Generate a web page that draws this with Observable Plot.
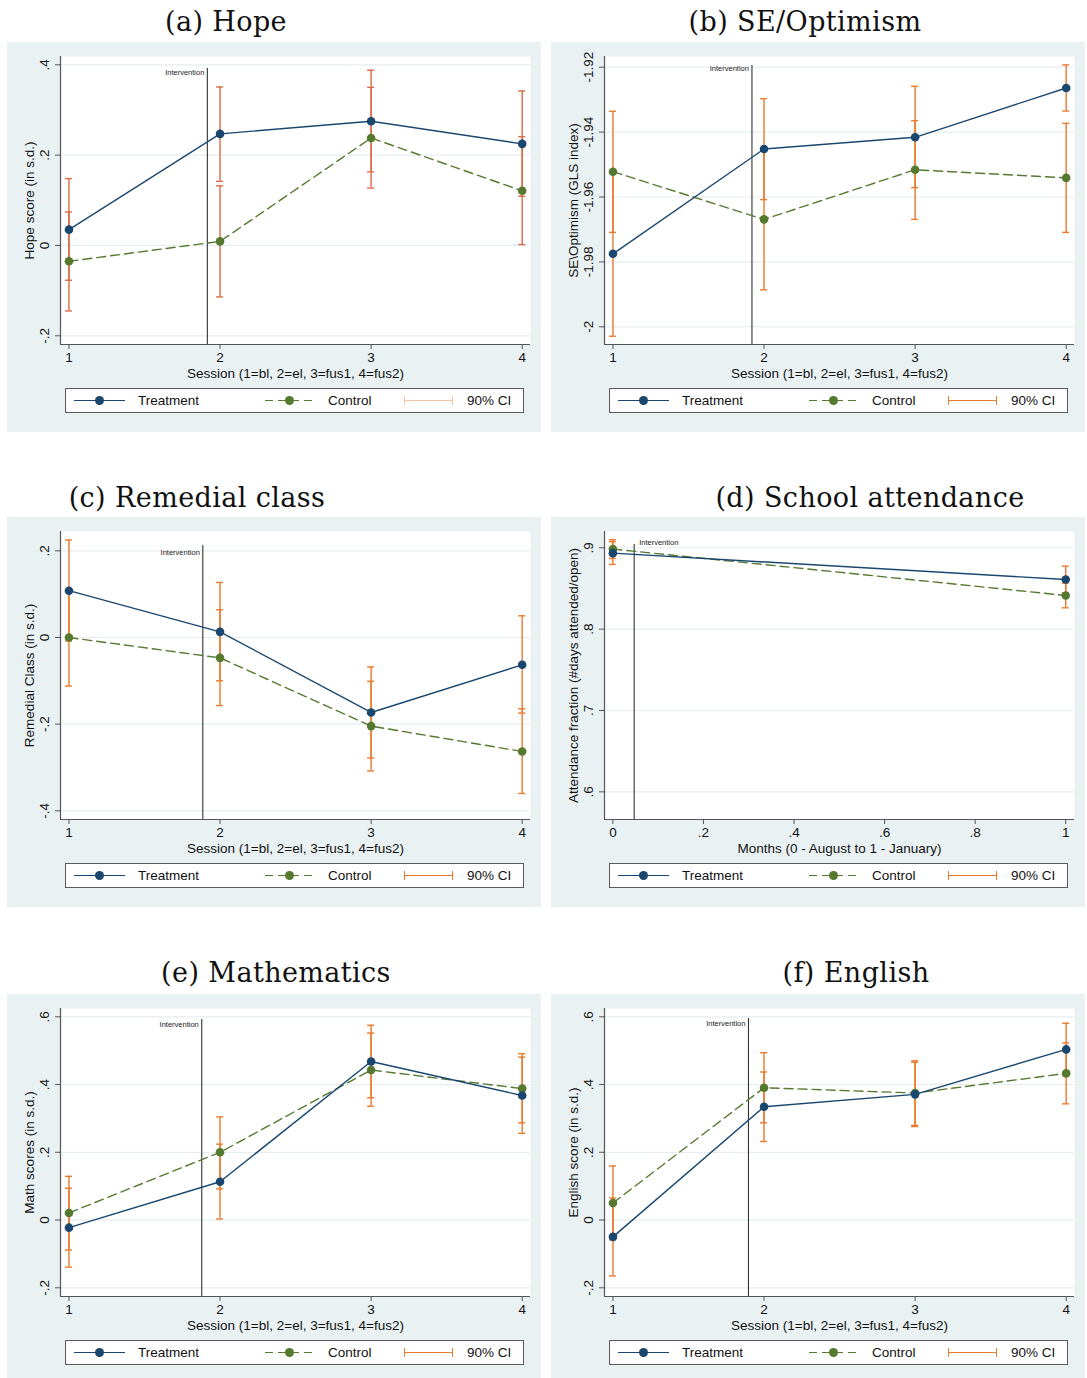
<!DOCTYPE html>
<html>
<head>
<meta charset="utf-8">
<script src="https://cdn.jsdelivr.net/npm/d3@7"></script>
<script src="https://cdn.jsdelivr.net/npm/@observablehq/plot@0.6"></script>
<style>
  body { margin: 0; background: #ffffff; }
  #page { position: relative; width: 1087px; height: 1378px; overflow: hidden;
          font-family: "Liberation Sans", Arial, Helvetica, sans-serif; }
  .title { position: absolute; width: 600px; text-align: center; line-height: 36px;
           font-family: "DejaVu Serif", "Liberation Serif", serif; font-size: 27px;
           letter-spacing: 0.4px; color: #111; }
  .panel { position: absolute; width: 534px; background: #eaf1f3; }
  .panel svg { display: block; }
  .legend { position: absolute; left: 58px; top: 346px; width: 457px; height: 23px;
            background: #fff; border: 1px solid #5a5a5a; font-size: 13.5px; color: #111; }
  .legend .txt { position: absolute; top: 4px; line-height: 15px; white-space: nowrap; }
  .legend .ln { position: absolute; top: 11px; height: 1.4px; width: 51px; }
  .legend .dot { position: absolute; top: 7px; width: 9px; height: 9px; border-radius: 50%; }
  .legend .ci { position: absolute; top: 7px; height: 9px; width: 49px; box-sizing: border-box; }
  .legend .ci i { position: absolute; left: 0; right: 0; top: 4px; height: 1.3px; }
</style>
</head>
<body>
<div id="page"></div>
<script>
// ---- shared axis values ----
const sessions = [1, 2, 3, 4];
const sessionTicks = [1, 2, 3, 4];
const sessionTickLabels = ["1", "2", "3", "4"];
const sessionLabel = "Session (1=bl, 2=el, 3=fus1, 4=fus2)";

const months = [0, 1];
const monthTicks = [0, 0.2, 0.4, 0.6, 0.8, 1];
const monthTickLabels = ["0", ".2", ".4", ".6", ".8", "1"];
const monthLabel = "Months (0 - August to 1 - January)";

const seriesNames = ["Treatment", "Control", "90% CI"];

// ---- (a) Hope ----
const hopeTitle = "(a) Hope";
const hopeYLabel = "Hope score (in s.d.)";
const hopeTicks = [-0.2, 0, 0.2, 0.4];
const hopeTickLabels = ["-.2", "0", ".2", ".4"];
const hopeTreat = [0.035, 0.247, 0.275, 0.225];
const hopeTreatCI = [[-0.077, 0.148], [0.142, 0.351], [0.163, 0.388], [0.109, 0.342]];
const hopeCtrl = [-0.035, 0.009, 0.238, 0.121];
const hopeCtrlCI = [[-0.145, 0.074], [-0.114, 0.132], [0.127, 0.350], [0.002, 0.241]];
const hopeIntervention = 1.916;

// ---- (b) SE/Optimism ----
const seTitle = "(b) SE/Optimism";
const seYLabel = "SE\\Optimism (GLS index)";
const seTicks = [-2, -1.98, -1.96, -1.94, -1.92];
const seTickLabels = ["-2", "-1.98", "-1.96", "-1.94", "-1.92"];
const seTreat = [-1.9775, -1.9452, -1.9416, -1.9264];
const seTreatCI = [[-2.0029, -1.9521], [-1.9608, -1.9297], [-1.9571, -1.9259], [-1.9335, -1.9193]];
const seCtrl = [-1.9522, -1.9669, -1.9516, -1.9541];
const seCtrlCI = [[-1.9709, -1.9336], [-1.9886, -1.9452], [-1.9669, -1.9365], [-1.9709, -1.9373]];
const seIntervention = 1.92;

// ---- (c) Remedial class ----
const remTitle = "(c) Remedial class";
const remYLabel = "Remedial Class (in s.d.)";
const remTicks = [-0.4, -0.2, 0, 0.2];
const remTickLabels = ["-.4", "-.2", "0", ".2"];
const remTreat = [0.108, 0.013, -0.173, -0.063];
const remTreatCI = [[-0.008, 0.225], [-0.100, 0.127], [-0.278, -0.068], [-0.1745, 0.050]];
const remCtrl = [0.000, -0.047, -0.2045, -0.263];
const remCtrlCI = [[-0.112, 0.111], [-0.157, 0.064], [-0.308, -0.101], [-0.360, -0.1645]];
const remIntervention = 1.886;

// ---- (d) School attendance ----
const attTitle = "(d) School attendance";
const attYLabel = "Attendance fraction (#days attended/open)";
const attTicks = [0.6, 0.7, 0.8, 0.9];
const attTickLabels = [".6", ".7", ".8", ".9"];
const attTreat = [0.8934, 0.861];
const attTreatCI = [[0.8795, 0.9074], [0.8446, 0.8774]];
const attCtrl = [0.8984, 0.8414];
const attCtrlCI = [[0.8869, 0.9098], [0.8262, 0.8565]];
const attIntervention = 0.047;

// ---- (e) Mathematics ----
const mathTitle = "(e) Mathematics";
const mathYLabel = "Math scores (in s.d.)";
const mathTicks = [-0.2, 0, 0.2, 0.4, 0.6];
const mathTickLabels = ["-.2", "0", ".2", ".4", ".6"];
const mathTreat = [-0.0225, 0.113, 0.468, 0.3675];
const mathTreatCI = [[-0.139, 0.094], [0.003, 0.224], [0.361, 0.575], [0.256, 0.481]];
const mathCtrl = [0.021, 0.200, 0.443, 0.388];
const mathCtrlCI = [[-0.0885, 0.129], [0.092, 0.3045], [0.336, 0.552], [0.287, 0.491]];
const mathIntervention = 1.879;

// ---- (f) English ----
const engTitle = "(f) English";
const engYLabel = "English score (in s.d.)";
const engTicks = [-0.2, 0, 0.2, 0.4, 0.6];
const engTickLabels = ["-.2", "0", ".2", ".4", ".6"];
const engTreat = [-0.0497, 0.3346, 0.371, 0.5037];
const engTreatCI = [[-0.165, 0.065], [0.232, 0.437], [0.276, 0.466], [0.426, 0.581]];
const engCtrl = [0.0505, 0.3906, 0.375, 0.433];
const engCtrlCI = [[-0.0586, 0.1596], [0.287, 0.494], [0.2795, 0.470], [0.343, 0.523]];
const engIntervention = 1.897;

// ---- styling ----
const NAVY = "#1a476f";
const GREEN = "#55792f";
const ORANGE = "#ea7a2c";
const GRID = "#e6eef1";
const AXIS = "#555555";
const FONT = "'Liberation Sans', Arial, Helvetica, sans-serif";

const W = 534, H = 340;

function rows(xs, ys, cis) {
  return xs.map((x, i) => ({ x, y: ys[i], lo: cis[i][0], hi: cis[i][1] }));
}

function ciMarks(data, color) {
  return [
    Plot.ruleX(data, { x: "x", y1: "lo", y2: "hi", stroke: color, strokeWidth: 1.4 }),
    Plot.ruleY(data, { x1: "x", x2: "x", y: "lo", stroke: color, strokeWidth: 1.4, insetLeft: -3.5, insetRight: -3.5 }),
    Plot.ruleY(data, { x1: "x", x2: "x", y: "hi", stroke: color, strokeWidth: 1.4, insetLeft: -3.5, insetRight: -3.5 })
  ];
}

function chart(cfg) {
  const T = rows(cfg.xs, cfg.treat, cfg.treatCI);
  const C = rows(cfg.xs, cfg.ctrl, cfg.ctrlCI);
  const xLab = d => cfg.xTickLabels[cfg.xTicks.indexOf(d)];
  return Plot.plot({
    width: W, height: H,
    marginLeft: 53, marginRight: 11, marginTop: 14, marginBottom: 38,
    style: { background: "transparent", fontFamily: FONT, fontSize: "13.5px", color: "#111" },
    x: { domain: cfg.xDomain },
    y: { domain: cfg.yDomain },
    marks: [
      Plot.frame({ fill: "white", stroke: "none" }),
      Plot.ruleY(cfg.yTicks, { stroke: GRID, strokeWidth: 1.2 }),
      Plot.ruleX([cfg.xDomain[0]], { stroke: AXIS, strokeWidth: 1.2 }),
      Plot.ruleY([cfg.yDomain[0]], { stroke: AXIS, strokeWidth: 1.2 }),
      Plot.axisX({ ticks: cfg.xTicks, tickFormat: xLab, tickSize: 5, tickPadding: 3, label: null,
                   stroke: AXIS, fontSize: 13.5 }),
      Plot.axisY({ ticks: cfg.yTicks, tickFormat: () => "", tickSize: 5, label: null, stroke: AXIS }),
      Plot.text(cfg.yTicks, { y: d => d, text: d => cfg.yTickLabels[cfg.yTicks.indexOf(d)],
                              frameAnchor: "left", dx: -15.5, rotate: -90, fontSize: 13.5,
                              textAnchor: "middle", lineAnchor: "middle" }),
      Plot.text([cfg.xLabel], { text: d => d, frameAnchor: "bottom", dy: 29, fontSize: 13.5,
                                textAnchor: "middle", lineAnchor: "middle" }),
      Plot.text([cfg.yLabel], { text: d => d, frameAnchor: "left", dx: -31, rotate: -90, fontSize: 13.5,
                                textAnchor: "middle", lineAnchor: "middle" }),
      // intervention marker
      Plot.ruleX([cfg.intervention], { x: d => d, stroke: "#333", strokeWidth: 1.1, insetTop: cfg.ivInset }),
      Plot.text([cfg.intervention], { x: d => d, text: () => "Intervention", frameAnchor: "top",
                                      dy: cfg.ivDy, dx: cfg.ivRight ? 5 : -3, lineAnchor: "middle",
                                      textAnchor: cfg.ivRight ? "start" : "end", fontSize: 7.5, fill: "#222" }),
      // confidence intervals
      ...ciMarks(T, cfg.ciColor),
      ...ciMarks(C, cfg.ciColor),
      // group means
      Plot.line(C, { x: "x", y: "y", stroke: GREEN, strokeWidth: 1.4, strokeDasharray: "9,5" }),
      Plot.line(T, { x: "x", y: "y", stroke: NAVY, strokeWidth: 1.4 }),
      Plot.dot(C, { x: "x", y: "y", r: 4.3, fill: GREEN, stroke: "none" }),
      Plot.dot(T, { x: "x", y: "y", r: 4.3, fill: NAVY, stroke: "none" })
    ]
  });
}

function legend(ciLegendColor) {
  const el = document.createElement("div");
  el.className = "legend";
  el.innerHTML =
    `<span class="ln" style="left:8px;background:${NAVY}"></span>` +
    `<span class="dot" style="left:29px;background:${NAVY}"></span>` +
    `<span class="txt" style="left:72px">${seriesNames[0]}</span>` +
    `<span class="ln" style="left:199px;background:repeating-linear-gradient(to right, ${GREEN} 0 8px, transparent 8px 13px)"></span>` +
    `<span class="dot" style="left:219px;background:${GREEN}"></span>` +
    `<span class="txt" style="left:262px">${seriesNames[1]}</span>` +
    `<span class="ci" style="left:338px;border-left:1.3px solid ${ciLegendColor};border-right:1.3px solid ${ciLegendColor}"><i style="background:${ciLegendColor}"></i></span>` +
    `<span class="txt" style="left:401px">${seriesNames[2]}</span>`;
  return el;
}

const page = document.getElementById("page");

function addTitle(text, cx, top) {
  const t = document.createElement("div");
  t.className = "title";
  t.textContent = text;
  t.style.left = (cx - 300) + "px";
  t.style.top = top + "px";
  page.appendChild(t);
}

function addPanel(cfg, left, top, height) {
  const p = document.createElement("div");
  p.className = "panel";
  p.style.left = left + "px";
  p.style.top = top + "px";
  p.style.height = height + "px";
  p.appendChild(chart(cfg));
  p.appendChild(legend(cfg.ciLegendColor || cfg.ciColor));
  page.appendChild(p);
}

const sessionDomain = [0.944, 4.055];

addTitle(hopeTitle, 226, 4);
addPanel({ xs: sessions, xDomain: sessionDomain, xTicks: sessionTicks, xTickLabels: sessionTickLabels, xLabel: sessionLabel,
           yDomain: [-0.2193, 0.4184], yTicks: hopeTicks, yTickLabels: hopeTickLabels, yLabel: hopeYLabel,
           treat: hopeTreat, treatCI: hopeTreatCI, ctrl: hopeCtrl, ctrlCI: hopeCtrlCI,
           intervention: hopeIntervention, ivInset: 12, ivDy: 16, ivRight: false,
           ciColor: "#dc6a45", ciLegendColor: "#f6c3a0" }, 7, 42, 390);

addTitle(seTitle, 805, 4);
addPanel({ xs: sessions, xDomain: sessionDomain, xTicks: sessionTicks, xTickLabels: sessionTickLabels, xLabel: sessionLabel,
           yDomain: [-2.00545, -1.9167], yTicks: seTicks, yTickLabels: seTickLabels, yLabel: seYLabel,
           treat: seTreat, treatCI: seTreatCI, ctrl: seCtrl, ctrlCI: seCtrlCI,
           intervention: seIntervention, ivInset: 9, ivDy: 12, ivRight: false,
           ciColor: ORANGE }, 551, 42, 390);

addTitle(remTitle, 197, 480);
addPanel({ xs: sessions, xDomain: sessionDomain, xTicks: sessionTicks, xTickLabels: sessionTickLabels, xLabel: sessionLabel,
           yDomain: [-0.420, 0.2446], yTicks: remTicks, yTickLabels: remTickLabels, yLabel: remYLabel,
           treat: remTreat, treatCI: remTreatCI, ctrl: remCtrl, ctrlCI: remCtrlCI,
           intervention: remIntervention, ivInset: 14, ivDy: 21, ivRight: false,
           ciColor: ORANGE }, 7, 517, 390);

addTitle(attTitle, 870, 480);
addPanel({ xs: months, xDomain: [-0.0185, 1.0194], xTicks: monthTicks, xTickLabels: monthTickLabels, xLabel: monthLabel,
           yDomain: [0.566, 0.920], yTicks: attTicks, yTickLabels: attTickLabels, yLabel: attYLabel,
           treat: attTreat, treatCI: attTreatCI, ctrl: attCtrl, ctrlCI: attCtrlCI,
           intervention: attIntervention, ivInset: 13, ivDy: 11, ivRight: true,
           ciColor: ORANGE }, 551, 517, 390);

addTitle(mathTitle, 276, 955);
addPanel({ xs: sessions, xDomain: sessionDomain, xTicks: sessionTicks, xTickLabels: sessionTickLabels, xLabel: sessionLabel,
           yDomain: [-0.2257, 0.6245], yTicks: mathTicks, yTickLabels: mathTickLabels, yLabel: mathYLabel,
           treat: mathTreat, treatCI: mathTreatCI, ctrl: mathCtrl, ctrlCI: mathCtrlCI,
           intervention: mathIntervention, ivInset: 11, ivDy: 16, ivRight: false,
           ciColor: ORANGE }, 7, 994, 384);

addTitle(engTitle, 856, 955);
addPanel({ xs: sessions, xDomain: sessionDomain, xTicks: sessionTicks, xTickLabels: sessionTickLabels, xLabel: sessionLabel,
           yDomain: [-0.2257, 0.6245], yTicks: engTicks, yTickLabels: engTickLabels, yLabel: engYLabel,
           treat: engTreat, treatCI: engTreatCI, ctrl: engCtrl, ctrlCI: engCtrlCI,
           intervention: engIntervention, ivInset: 10, ivDy: 15, ivRight: false,
           ciColor: ORANGE }, 551, 994, 384);
</script>
</body>
</html>
